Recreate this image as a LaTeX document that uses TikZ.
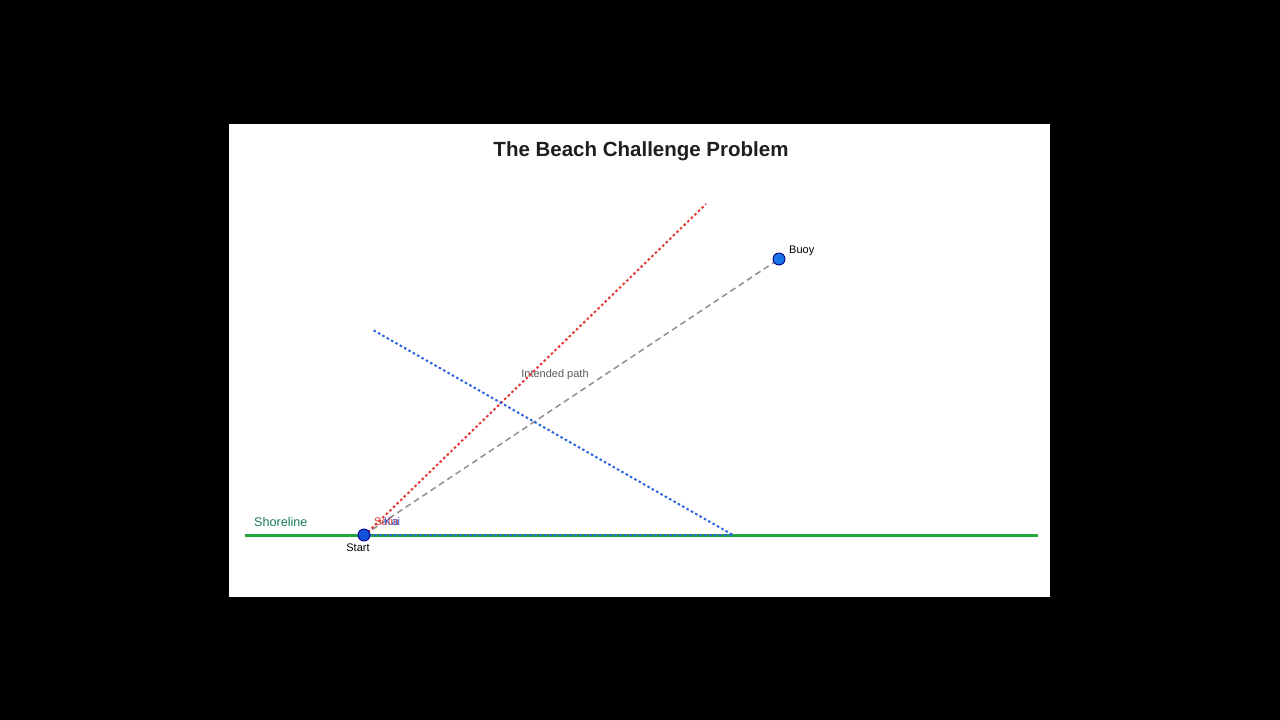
\documentclass[tikz,border=0pt]{standalone}
\usepackage{fontspec}
\setmainfont{Liberation Sans}
\begin{document}
\begin{tikzpicture}[x=1pt,y=-1pt,
  lbl/.style={font=\fontsize{11}{13}\selectfont, inner sep=1pt},
  dotline/.style={line width=2pt, dash pattern=on 2.5pt off 2.5pt},
  pt/.style={circle, inner sep=0pt, minimum size=12pt, draw=blue!55!black, line width=0.9pt}]
\definecolor{shore}{HTML}{22A83A}
\definecolor{shoretxt}{HTML}{1B7A55}
\definecolor{sofia}{HTML}{E53935}
\definecolor{kai}{HTML}{2B63E0}
\definecolor{pathgray}{HTML}{909090}
\definecolor{dotblue}{HTML}{1A73E8}
\definecolor{startblue}{HTML}{1550D8}
\fill[black] (0,0) rectangle (1280,720);
\useasboundingbox (0,0) rectangle (1280,720);
\fill[white] (229,124) rectangle (1050,597);
\node[font=\bfseries\fontsize{20.5}{24}\selectfont, text=black!88] (title) at (641,151) {The Beach Challenge Problem};
% shoreline
\coordinate (shL) at (245,535);
\coordinate (shR) at (1038,535);
\draw[shore, line width=3pt] (shL) -- (shR);
\node[text=shoretxt, font=\fontsize{12.6}{15}\selectfont, anchor=west, inner sep=0pt] (shoretext) at (254,522) {Shoreline};
% points
\coordinate (startc) at (364,535);
\coordinate (buoyc) at (779,259);
% intended path
\draw[pathgray, line width=1.5pt, dash pattern=on 6pt off 4pt] (startc) -- (buoyc);
\node[lbl, text=black!65] (intended) at (555,375) {Intended path};
% Sofia path
\coordinate (sofiaS) at (368,532);
\coordinate (sofiaE) at (706,204);
\draw[sofia, dotline] (sofiaS) -- (sofiaE);
% Kai path
\coordinate (kaiT) at (733,535);
\coordinate (kaiE) at (373,330);
\draw[kai, dotline] (startc) -- (kaiT) -- (kaiE);
% dots
\node[pt, fill=startblue] (start) at (startc) {};
\node[pt, fill=dotblue] (buoy) at (buoyc) {};
\node[lbl, anchor=north] (starttext) at (358,543) {Start};
\node[lbl, anchor=west] (buoytext) at (788,251) {Buoy};
\node[lbl, anchor=west, text=sofia] (sofialbl) at (373,522) {Sofia};
\node[lbl, anchor=west, text=kai] (kailbl) at (383,522) {Kai};
\end{tikzpicture}
\end{document}
